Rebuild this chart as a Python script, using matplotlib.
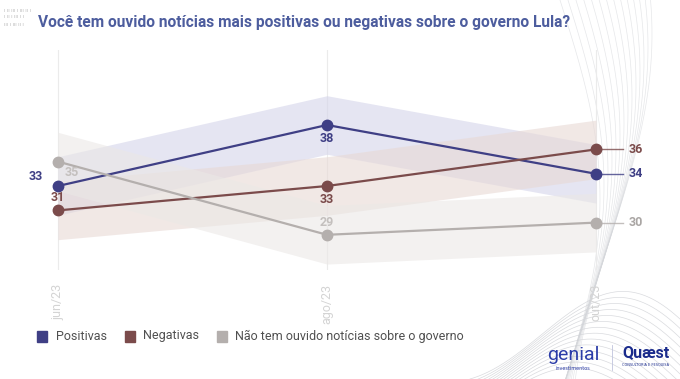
import numpy as np
import matplotlib.pyplot as plt
from matplotlib.lines import Line2D
from matplotlib.patches import Rectangle

# data
months = ["jun/23", "ago/23", "out/23"]
positivas = [33, 38, 34]
negativas = [31, 33, 36]
nao_ouviu = [35, 29, 30]
margem = 2.4

series = [
    ("Positivas", positivas, "#3f3f85", "#d4d4ea"),
    ("Negativas", negativas, "#7b4b4b", "#e8d9d5"),
    ("Não tem ouvido notícias sobre o governo", nao_ouviu, "#b4afad", "#ebe8e6"),
]

fig = plt.figure(figsize=(6.8, 3.79), dpi=100)
W, H = 680, 379

# decorative curves on the right
deco = fig.add_axes([0, 0, 1, 1], zorder=0)
deco.set_xlim(0, W)
deco.set_ylim(H, 0)
deco.axis("off")
t = np.linspace(0, 1, 200)
for k in range(14):
    xx = 470 + 210 * t
    yy = 379 - 60 * t - 80 * np.sin(np.pi * t + k * 0.08) * t + k * 3
    deco.plot(xx, yy, color="#c9cbd0", lw=0.5, alpha=0.7)
    x2 = 560 + k * 4 + 40 * np.sin(3 * t + k * 0.1)
    y2 = 379 * t
    deco.plot(x2, y2, color="#d5d7db", lw=0.5, alpha=0.6)

# tiny marks top-left
for i, s in enumerate(["ı ıı ııı ı ııı ıı ı", "ı ıı ı ııı ı ı", "ııı ı ııı ıı ı"]):
    fig.text(4 / W, 1 - (10 + i * 7) / H, s, fontsize=3.5, color="#b8b8b8", va="center")

ax = fig.add_axes([30 / W, 1 - 270 / H, 630 / W, 220 / H], zorder=2)
ax.patch.set_alpha(0)
x = np.arange(len(months))
ax.set_xlim(-28 / 269, 2 + 64 / 269)
ax.set_ylim(33 - 84 / 12.2, 33 + 136 / 12.2)

for xi in x:
    ax.axvline(xi, color="#ebebeb", lw=0.8, zorder=1)

for name, vals, col, band in series:
    v = np.array(vals)
    ax.fill_between(x, v - margem, v + margem, color=band, alpha=0.6, lw=0, zorder=2)

for name, vals, col, band in series:
    ax.plot(x, vals, color=col, lw=1.6, marker="o", ms=7.5, zorder=4)
    # line to right label
    ax.plot([2, 2.1], [vals[2], vals[2]], color=col, lw=1.0, alpha=0.8, zorder=3)

lab = dict(fontsize=9, fontweight="bold", family="Roboto", zorder=5)
# Positivas
ax.annotate(str(positivas[0]), (0, positivas[0]), xytext=(-16, 7), textcoords="offset points",
            ha="center", va="center", color="#3f3f85", **lab)
ax.annotate(str(positivas[1]), (1, positivas[1]), xytext=(0, -10), textcoords="offset points",
            ha="center", va="center", color="#3f3f85", **lab)
# Negativas
ax.annotate(str(negativas[0]), (0, negativas[0]), xytext=(0, 9), textcoords="offset points",
            ha="center", va="center", color="#7b4b4b", **lab)
ax.annotate(str(negativas[1]), (1, negativas[1]), xytext=(0, -10), textcoords="offset points",
            ha="center", va="center", color="#7b4b4b", **lab)
# Nao
ax.annotate(str(nao_ouviu[0]), (0, nao_ouviu[0]), xytext=(10, -8), textcoords="offset points",
            ha="center", va="center", color="#c4c0be", **lab)
ax.annotate(str(nao_ouviu[1]), (1, nao_ouviu[1]), xytext=(0, 9), textcoords="offset points",
            ha="center", va="center", color="#c4c0be", **lab)
# right labels
for name, vals, col, band in series:
    c = "#aaa6a4" if col == "#b4afad" else col
    ax.annotate(str(vals[2]), (2.1, vals[2]), xytext=(4, 0), textcoords="offset points",
                ha="left", va="center", color=c, **lab)

ax.set_xticks(x)
ax.set_xticklabels(months, rotation=90, color="#d4d4d4", fontsize=9, family="Roboto")
ax.tick_params(axis="x", length=0, pad=10)
ax.set_yticks([])
for s in ax.spines.values():
    s.set_visible(False)

# title
fig.text(38 / W, 1 - 22 / H, "Você tem ouvido notícias mais positivas ou negativas sobre o governo Lula?",
         fontsize=11.2, fontweight="bold", color="#4d5d9e", va="center", ha="left",
         family="Roboto")

# legend, placed by hand
leg_sq = [42, 130, 222]
leg_tx = [56, 143, 235]
for (name, vals, col, band), sx, tx in zip(series, leg_sq, leg_tx):
    fig.add_artist(Rectangle(((sx - 5) / W, 1 - 342 / H), 10 / W, 11 / H, color=col,
                             transform=fig.transFigure))
    fig.text(tx / W, 1 - 336 / H, name, fontsize=9, color="#505050", va="center", ha="left",
             family="Roboto")

# logos
fig.text(573 / W, 1 - 355 / H, "genial", fontsize=14, color="#2b3ca8", ha="center", va="center",
         family="Roboto")
fig.text(573 / W, 1 - 368 / H, "investimentos", fontsize=3.5, color="#2b3ca8", ha="center", va="center")
fig.add_artist(Line2D([612 / W, 612 / W], [1 - 345 / H, 1 - 370 / H], color="#c0c4dd", lw=0.6))
fig.text(646 / W, 1 - 353 / H, "Quæst", fontsize=11.5, fontweight="bold", color="#1a2b8c",
         ha="center", va="center", family="Roboto")
fig.text(646 / W, 1 - 365 / H, "CONSULTORIA E PESQUISA", fontsize=2.5, color="#1a2b8c",
         ha="center", va="center")

fig.savefig("out.png", dpi=100, facecolor="white")
